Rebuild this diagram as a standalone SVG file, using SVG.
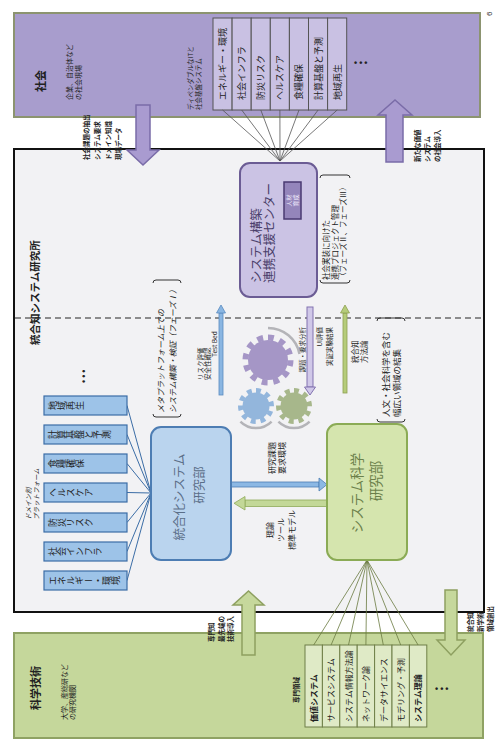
<svg xmlns="http://www.w3.org/2000/svg" width="502" height="743" viewBox="0 0 502 743">
<defs>
<style>
.j{font-family:"Noto Sans CJK JP","Noto Sans",sans-serif;fill:#222}
.b{font-weight:bold}
.vt{writing-mode:vertical-rl}
.bar-s{fill:#c9c1e3;stroke:#555;stroke-width:1}
.bar-g{fill:#dfeac6;stroke:#6f7f48;stroke-width:1}
.dom{fill:#9dc3e8;stroke:#3b6da6;stroke-width:1.2}
.ln-s{stroke:#555;stroke-width:0.8;fill:none}
.ln-g{stroke:#6a7a40;stroke-width:0.8;fill:none}
.ln-b{stroke:#3b6da6;stroke-width:1;fill:none}
.brk{fill:none;stroke:#333;stroke-width:1}
.arc{fill:none;stroke:#b4b4b8;stroke-width:2.5}
.dots{font-family:"Liberation Sans",sans-serif;font-weight:bold;fill:#222}
</style>
</defs>
<rect x="0" y="0" width="502" height="743" fill="#ffffff"/>
<g transform="translate(0 743) rotate(-90)">
  <!-- Science box -->
  <g id="science">
    <rect x="5" y="14" width="105" height="469" fill="#c5d79b" stroke="#8fa263" stroke-width="2"/>
    <text class="j b" x="33" y="40" font-size="11">科学技術</text>
    <text class="j" x="23" y="67" font-size="7">大学、産総研など</text>
    <text class="j" x="23" y="75" font-size="7">の研究機関</text>
    <text class="j b" x="40" y="299" font-size="6.5">専門領域</text>
    <g id="science-fields">
      <rect class="bar-g" x="16" y="305" width="82" height="17.4"/>
      <rect class="bar-g" x="16" y="322.4" width="82" height="17.4"/>
      <rect class="bar-g" x="16" y="339.8" width="82" height="17.4"/>
      <rect class="bar-g" x="16" y="357.2" width="82" height="17.4"/>
      <rect class="bar-g" x="16" y="374.6" width="82" height="17.4"/>
      <rect class="bar-g" x="16" y="392" width="82" height="17.4"/>
      <rect class="bar-g" x="16" y="409.4" width="82" height="17.4"/>
      <text class="j b" x="21" y="317" font-size="8">価値システム</text>
      <text class="j" x="21" y="334.4" font-size="8">サービスシステム</text>
      <text class="j" x="21" y="351.8" font-size="8">システム情報方法論</text>
      <text class="j" x="21" y="369.2" font-size="8">ネットワーク論</text>
      <text class="j" x="21" y="386.6" font-size="8">データサイエンス</text>
      <text class="j" x="21" y="404" font-size="8">モデリング・予測</text>
      <text class="j b" x="21" y="421.4" font-size="8">システム理論</text>
    </g>
  </g>

  <!-- Society box -->
  <g id="society">
    <rect x="626" y="14" width="104" height="466" fill="#a89dcd" stroke="#8c9470" stroke-width="2"/>
    <text class="j b" x="651" y="45" font-size="11">社会</text>
    <text class="j" x="643" y="72" font-size="7">企業、自治体など</text>
    <text class="j" x="643" y="81" font-size="7">の社会現場</text>
    <text class="j" x="633" y="193" font-size="6.5">ディペンダブルなITと</text>
    <text class="j" x="633" y="201" font-size="6.5">社会基盤システム</text>
    <g id="society-domains">
      <rect class="bar-s" x="633" y="213" width="92" height="19.1"/>
      <rect class="bar-s" x="633" y="232.1" width="92" height="19.1"/>
      <rect class="bar-s" x="633" y="251.2" width="92" height="19.1"/>
      <rect class="bar-s" x="633" y="270.3" width="92" height="19.1"/>
      <rect class="bar-s" x="633" y="289.4" width="92" height="19.1"/>
      <rect class="bar-s" x="633" y="308.5" width="92" height="19.1"/>
      <rect class="bar-s" x="633" y="327.6" width="92" height="19.1"/>
      <text class="j" x="643" y="226" font-size="9">エネルギー・環境</text>
      <text class="j" x="643" y="245.1" font-size="9">社会インフラ</text>
      <text class="j" x="643" y="264.2" font-size="9">防災リスク</text>
      <text class="j" x="643" y="283.3" font-size="9">ヘルスケア</text>
      <text class="j" x="643" y="302.4" font-size="9">食糧確保</text>
      <text class="j" x="643" y="321.5" font-size="9">計算基盤と予測</text>
      <text class="j" x="643" y="340.6" font-size="9">地域再生</text>
    </g>
  </g>

  <!-- Institute frame -->
  <g id="institute">
    <rect x="131" y="14" width="463" height="470" fill="#f2f2f4" stroke="#111" stroke-width="2"/>
    <line x1="425" y1="15" x2="425" y2="483" stroke="#6a6a6a" stroke-width="1.5" stroke-dasharray="6 4"/>
    <text class="j b" x="398" y="39" font-size="10.5">統合知システム研究所</text>
  </g>

  <!-- Connectors -->
  <g id="connectors">
    <!-- society domains to center -->
    <line class="ln-s" x1="633" y1="222.6" x2="582" y2="280"/>
    <line class="ln-s" x1="633" y1="241.7" x2="582" y2="280"/>
    <line class="ln-s" x1="633" y1="260.8" x2="582" y2="280"/>
    <line class="ln-s" x1="633" y1="279.9" x2="582" y2="280"/>
    <line class="ln-s" x1="633" y1="299" x2="582" y2="280"/>
    <line class="ln-s" x1="633" y1="318.1" x2="582" y2="280"/>
    <line class="ln-s" x1="633" y1="337.2" x2="582" y2="280"/>
    <!-- science fields to system science dept -->
    <line class="ln-g" x1="98" y1="313.7" x2="183" y2="367"/>
    <line class="ln-g" x1="98" y1="331.1" x2="183" y2="367"/>
    <line class="ln-g" x1="98" y1="348.5" x2="183" y2="367"/>
    <line class="ln-g" x1="98" y1="365.9" x2="183" y2="367"/>
    <line class="ln-g" x1="98" y1="383.3" x2="183" y2="367"/>
    <line class="ln-g" x1="98" y1="400.7" x2="183" y2="367"/>
    <line class="ln-g" x1="98" y1="418.1" x2="183" y2="367"/>
    <!-- domain platforms to integrated dept -->
    <line class="ln-b" x1="162.5" y1="127" x2="250" y2="151"/>
    <line class="ln-b" x1="191.5" y1="127" x2="250" y2="151"/>
    <line class="ln-b" x1="220.5" y1="127" x2="250" y2="151"/>
    <line class="ln-b" x1="250.5" y1="127" x2="250" y2="151"/>
    <line class="ln-b" x1="279.5" y1="127" x2="250" y2="151"/>
    <line class="ln-b" x1="308.5" y1="127" x2="250" y2="151"/>
    <line class="ln-b" x1="337.5" y1="127" x2="250" y2="151"/>

    <!-- big purple arrows -->
    <polygon points="638,136 593,136 593,127 578,143 593,159 593,150 638,150" fill="#a99bd0" stroke="#7a6ca8" stroke-width="1.5"/>
    <polygon points="581,386 628,386 628,378 643,395 628,412 628,403 581,403" fill="#a99bd0" stroke="#7a6ca8" stroke-width="1.5"/>
    <!-- big green arrows -->
    <polygon points="88,242 138,242 138,233 152,248.5 138,264 138,255 88,255" fill="#c6d89c" stroke="#8ea060" stroke-width="1.5"/>
    <polygon points="153,445 103,445 103,437 88,451 103,465 103,457 153,457" fill="#c6d89c" stroke="#8ea060" stroke-width="1.5"/>

    <!-- thin arrows across dashed line -->
    <rect x="348" y="219" width="82" height="4" fill="#8ab6e2" stroke="#5a8cc0" stroke-width="0.8"/>
    <polygon points="430,216.5 438,221 430,225.5" fill="#8ab6e2" stroke="#5a8cc0" stroke-width="0.8"/>
    <rect x="356" y="307" width="80" height="6" fill="#d0c8e8" stroke="#8273b0" stroke-width="1"/>
    <polygon points="356,304.5 348,310 356,315.5" fill="#d0c8e8" stroke="#8273b0" stroke-width="1"/>
    <rect x="350" y="343" width="80" height="4" fill="#b5cc7a" stroke="#8ea050" stroke-width="0.8"/>
    <polygon points="430,340.5 438,345 430,349.5" fill="#b5cc7a" stroke="#8ea050" stroke-width="0.8"/>

    <!-- arrows between departments -->
    <rect x="256" y="231" width="5" height="88" fill="#8cb8e4" stroke="#4d7db3" stroke-width="0.8"/>
    <polygon points="252,319 258.5,327 265,319" fill="#8cb8e4" stroke="#4d7db3" stroke-width="0.8"/>
    <rect x="236.5" y="245" width="6.5" height="82" fill="#c3d898" stroke="#8fab5a" stroke-width="0.8"/>
    <polygon points="233,245 239.75,234 246.5,245" fill="#c3d898" stroke="#8fab5a" stroke-width="0.8"/>
  </g>

  <!-- Arrow labels -->
  <g id="labels">
    <text class="j b" x="583" y="89" font-size="6.5">社会課題の抽出</text>
    <text class="j b" x="583" y="100" font-size="6.5">システム要求</text>
    <text class="j b" x="583" y="111" font-size="6.5">ドメイン知識</text>
    <text class="j b" x="583" y="121" font-size="6.5">現場データ</text>
    <text class="j b" x="581" y="420" font-size="6.5">新たな価値</text>
    <text class="j b" x="581" y="430" font-size="6.5">システム</text>
    <text class="j b" x="581" y="440" font-size="6.5">の社会導入</text>
    <text class="j b" x="101" y="214" font-size="6.5">専門知</text>
    <text class="j b" x="101" y="224" font-size="6.5">最先端の</text>
    <text class="j b" x="101" y="233" font-size="6.5">技術導入</text>
    <text class="j b" x="111" y="473" font-size="6.5">統合知</text>
    <text class="j b" x="111" y="483" font-size="6.5">新学術</text>
    <text class="j b" x="111" y="493" font-size="6.5">領域創出</text>
    <text class="j" x="363" y="203" font-size="6.5">リスク評価</text>
    <text class="j" x="363" y="210" font-size="6.5">安全性確認</text>
    <text class="j" x="386" y="217" font-size="6.5">Test Bed</text>
    <text class="j" x="416" y="305" font-size="6.5" text-anchor="end">課題・要求分析</text>
    <text class="j" x="416" y="322" font-size="6.5" text-anchor="end">UI評価</text>
    <text class="j" x="416" y="332" font-size="6.5" text-anchor="end">実証実験結果</text>
    <text class="j" x="380" y="358" font-size="7.5">統合知</text>
    <text class="j" x="380" y="367" font-size="7.5">方法論</text>
    <text class="j" x="285" y="275" font-size="8" text-anchor="middle">研究課題</text>
    <text class="j" x="285" y="285" font-size="8" text-anchor="middle">要求環境</text>
    <text class="j" x="213" y="273" font-size="8" text-anchor="middle">理論</text>
    <text class="j" x="213" y="284" font-size="8" text-anchor="middle">ツール</text>
    <text class="j" x="213" y="295" font-size="8" text-anchor="middle">標準モデル</text>
  </g>

  <!-- Gears -->
  <g id="gears">
    <path class="arc" d="M 415 268 A 32 32 0 0 1 389 299.5"/>
    <path class="arc" d="M 321.4 240.4 A 22 22 0 0 0 321.4 271.6"/>
    <path class="arc" d="M 321.4 278.4 A 22 22 0 0 0 321.4 309.6"/>
    <circle cx="383" cy="268" r="20" fill="#a596c6"/>
    <circle cx="383" cy="268" r="22.5" fill="none" stroke="#a596c6" stroke-width="6" stroke-dasharray="5.89 5.89"/>
    <circle cx="337" cy="256" r="13.5" fill="#93b6dc"/>
    <circle cx="337" cy="256" r="15.5" fill="none" stroke="#93b6dc" stroke-width="5" stroke-dasharray="4.87 4.87"/>
    <circle cx="337" cy="294" r="13.5" fill="#a7b78b"/>
    <circle cx="337" cy="294" r="15.5" fill="none" stroke="#a7b78b" stroke-width="5" stroke-dasharray="4.87 4.87"/>
  </g>

  <!-- Domain platforms -->
  <g id="domain-platforms">
    <text class="j" x="223" y="31" font-size="6.5" font-style="italic">ドメイン別</text>
    <text class="j" x="223" y="39" font-size="6.5" font-style="italic">プラットフォーム</text>
    <rect class="dom" x="153" y="44" width="19" height="83"/>
    <rect class="dom" x="182" y="44" width="19" height="83"/>
    <rect class="dom" x="211" y="44" width="19" height="83"/>
    <rect class="dom" x="241" y="44" width="19" height="83"/>
    <rect class="dom" x="270" y="44" width="19" height="83"/>
    <rect class="dom" x="299" y="44" width="19" height="83"/>
    <rect class="dom" x="328" y="44" width="19" height="83"/>
    <text class="j vt" x="162.5" y="48" font-size="9">エネルギー・環境</text>
    <text class="j vt" x="191.5" y="48" font-size="9">社会インフラ</text>
    <text class="j vt" x="220.5" y="48" font-size="9">防災リスク</text>
    <text class="j vt" x="250.5" y="48" font-size="9">ヘルスケア</text>
    <text class="j vt" x="279.5" y="48" font-size="9">食糧確保</text>
    <text class="j vt" x="308.5" y="48" font-size="9">計算基盤と予測</text>
    <text class="j vt" x="337.5" y="48" font-size="9">地域再生</text>
    <text class="dots" x="360" y="87" font-size="9" letter-spacing="2">•••</text>
  </g>

  <!-- Integrated systems dept -->
  <g id="integration-dept">
    <rect x="183" y="151" width="133" height="80" rx="10" fill="#bad4ee" stroke="#4d7db3" stroke-width="2"/>
    <text class="j" x="246" y="184" font-size="12.5" text-anchor="middle" style="fill:#5a6e88">統合化システム</text>
    <text class="j" x="258" y="204" font-size="12.5" text-anchor="middle" style="fill:#5a6e88">研究部</text>
  </g>
  <g id="meta-note">
    <path class="brk" d="M 329 153 Q 326 153 326 156 L 326 178 Q 326 181 329 181"/>
    <path class="brk" d="M 460 153 Q 463 153 463 156 L 463 178 Q 463 181 460 181"/>
    <text class="j" x="330" y="164" font-size="8" font-style="italic">メタプラットフォーム上での</text>
    <text class="j" x="330" y="176" font-size="8" font-style="italic">システム構築・検証（フェーズⅠ）</text>
  </g>

  <!-- System science dept -->
  <g id="science-dept">
    <rect x="183" y="327" width="136" height="80" rx="10" fill="#d5e5ae" stroke="#8bab55" stroke-width="2"/>
    <text class="j" x="250" y="362" font-size="13.5" text-anchor="middle" style="fill:#6b7f4a">システム科学</text>
    <text class="j" x="262" y="381" font-size="13.5" text-anchor="middle" style="fill:#6b7f4a">研究部</text>
  </g>
  <g id="science-note">
    <path class="brk" d="M 324 377 Q 321 377 321 380 L 321 402 Q 321 405 324 405"/>
    <path class="brk" d="M 422 377 Q 425 377 425 380 L 425 402 Q 425 405 422 405"/>
    <text class="j" x="326" y="389" font-size="8.5">人文・社会科学を含む</text>
    <text class="j" x="326" y="400" font-size="8.5">幅広い領域の結集</text>
  </g>

  <!-- Support center -->
  <g id="support-center">
    <rect x="446" y="240" width="134" height="77" rx="10" fill="#cbc3e4" stroke="#6b5c94" stroke-width="2"/>
    <text class="j" x="460" y="260.5" font-size="12.5" style="fill:#4a3f6a">システム構築</text>
    <text class="j" x="460" y="274" font-size="12.5" style="fill:#4a3f6a">連携支援センター</text>
    <rect x="524" y="284" width="37" height="17" fill="#9485bb" stroke="#4a3a72" stroke-width="1.5"/>
    <text class="j" x="542.5" y="291" font-size="6" text-anchor="middle" style="fill:#f4f0ff">人材</text>
    <text class="j" x="542.5" y="298" font-size="6" text-anchor="middle" style="fill:#f4f0ff">育成</text>
  </g>
  <g id="center-note">
    <path class="brk" d="M 463 320 Q 460 320 460 323 L 460 347 Q 460 350 463 350"/>
    <path class="brk" d="M 565 320 Q 568 320 568 323 L 568 347 Q 568 350 565 350"/>
    <text class="j" x="463" y="329" font-size="7.5">社会実装に向けた</text>
    <text class="j" x="463" y="337.5" font-size="7.5">連携プロジェクト管理</text>
    <text class="j" x="463" y="346" font-size="7.5">（フェーズⅡ、フェーズⅢ）</text>
  </g>
</g>
<text class="dots" x="354" y="66" font-size="9" letter-spacing="2">•••</text>
<text class="dots" x="435" y="692" font-size="9" letter-spacing="2">•••</text>
<text x="486" y="16" font-family="Liberation Sans, sans-serif" font-size="8" fill="#333" transform="rotate(-90 489 13)">6</text>
</svg>
